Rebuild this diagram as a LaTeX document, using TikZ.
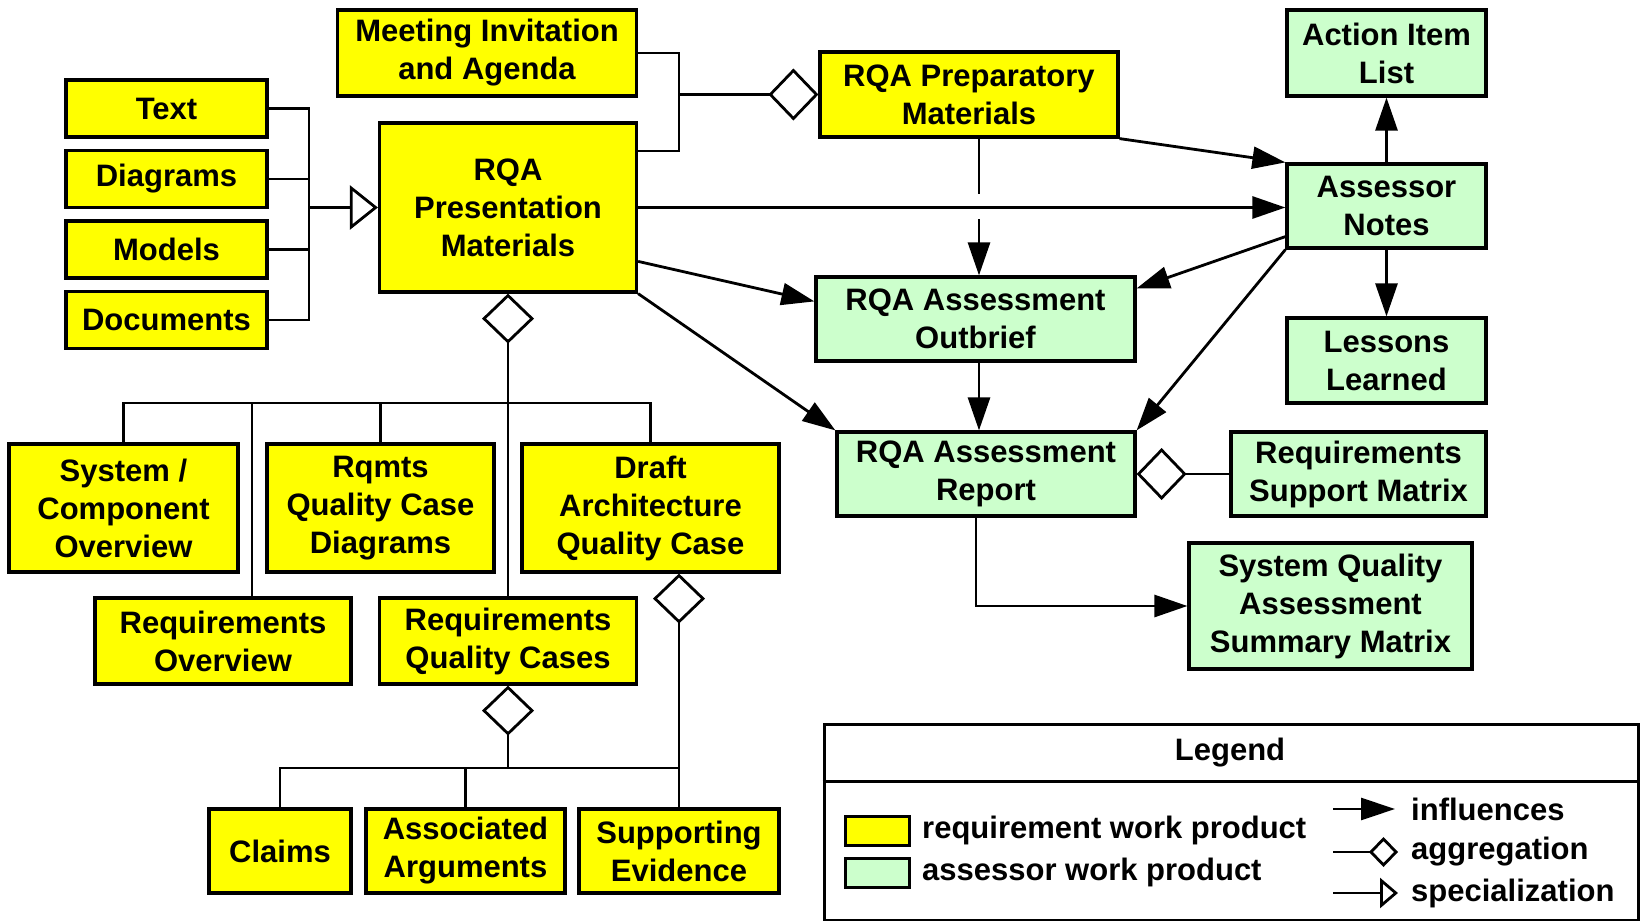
\documentclass[tikz,border=0pt]{standalone}
\usepackage{fontspec}
\setmainfont{Liberation Sans}
\usetikzlibrary{arrows.meta,calc}
\definecolor{wpyellow}{HTML}{FFFF00}
\definecolor{wpgreen}{HTML}{CCFFCC}
\begin{document}
\begin{tikzpicture}[x=1pt,y=-1pt,
  lbl/.style={font=\fontsize{31}{38}\selectfont\bfseries},
  wp/.style={draw=black, line width=3.2pt, inner sep=0pt, align=center, lbl},
  req/.style={wp, fill=wpyellow},
  ass/.style={wp, fill=wpgreen},
  conn/.style={line width=2.8pt, line join=miter},
  infl/.style={conn, -{Triangle[length=33pt,width=22pt]}},
  aggr/.style={conn, -{Diamond[fill=white,length=50pt,width=52pt]}},
  spec/.style={conn, -{Triangle[fill=white,length=28pt,width=44pt]}},
  legtxt/.style={lbl, anchor=west, inner sep=0pt},
  swatch/.style={draw=black, line width=3pt, minimum width=64pt, minimum height=29pt, inner sep=0pt},
]
\useasboundingbox (0,0) rectangle (1644,921);

% ---------- nodes ----------
\node[req, minimum width=299pt, minimum height=86pt] (meet) at (487,53) {Meeting Invitation\\and Agenda};
\node[req, minimum width=201pt, minimum height=57pt] (ntext) at (166.5,108.5) {Text};
\node[req, minimum width=201pt, minimum height=57pt] (diag) at (166.5,179) {Diagrams};
\node[req, minimum width=201pt, minimum height=57pt] (models) at (166.5,249.5) {Models};
\node[req, minimum width=201pt, minimum height=57pt] (docs) at (166.5,320) {Documents};
\node[req, minimum width=257pt, minimum height=169pt] (pres) at (508,207.5) {RQA\\Presentation\\Materials};
\node[req, minimum width=298pt, minimum height=85pt] (prep) at (969,94.5) {RQA Preparatory\\Materials};
\node[ass, minimum width=199pt, minimum height=86pt] (action) at (1386.5,53) {Action Item\\List};
\node[ass, minimum width=199pt, minimum height=84pt] (notes) at (1386.5,206) {Assessor\\Notes};
\node[ass, minimum width=199pt, minimum height=85pt] (lessons) at (1386.5,360.5) {Lessons\\Learned};
\node[ass, minimum width=319pt, minimum height=84pt] (outbrief) at (975.5,319) {RQA Assessment\\Outbrief};
\node[ass, minimum width=298pt, minimum height=84pt] (report) at (986,474) {RQA Assessment\\Report};
\node[ass, minimum width=255pt, minimum height=84pt] (rsm) at (1358.5,474) {Requirements\\Support Matrix};
\node[ass, minimum width=283pt, minimum height=126pt] (sqasm) at (1330.5,606) {System Quality\\Assessment\\Summary Matrix};
\node[req, minimum width=229pt, minimum height=128pt] (sys) at (123.5,508) {System /\\Component\\Overview};
\node[req, minimum width=227pt, minimum height=128pt] (rqcd) at (380.5,508) {Rqmts\\Quality Case\\Diagrams};
\node[req, minimum width=257pt, minimum height=128pt] (draft) at (650.5,508) {Draft\\Architecture\\Quality Case};
\node[req, minimum width=256pt, minimum height=86pt] (reqov) at (223,641) {Requirements\\Overview};
\node[req, minimum width=257pt, minimum height=86pt] (rqc) at (508,641) {Requirements\\Quality Cases};
\node[req, minimum width=142pt, minimum height=84pt] (claims) at (280,851) {Claims};
\node[req, minimum width=199pt, minimum height=84pt] (args) at (465.5,851) {Associated\\Arguments};
\node[req, minimum width=200pt, minimum height=84pt] (evid) at (679,851) {Supporting\\Evidence};

% ---------- specialization ----------
\coordinate (spx) at (309,0);
\draw[conn] (ntext.east) -| (spx |- docs.east) -- (docs.east);
\draw[conn] (diag.east) -- (diag.east -| spx);
\draw[conn] (models.east) -- (models.east -| spx);
\draw[spec] (pres.west -| spx) -- (pres.west);

% ---------- meeting + presentation -> preparatory ----------
\coordinate (mx) at (679,151);
\draw[conn] (meet.east) -| (mx) -- (mx -| pres.east);
\draw[aggr] (prep.west -| mx) -- (prep.west);

% ---------- influences ----------
\draw[infl] (pres.east) -- (pres.east -| notes.west);
\coordinate (hopA) at (979,194);
\coordinate (hopB) at (979,219);
\draw[conn] (prep.south -| hopA) -- (hopA);
\draw[infl] (hopB) -- (outbrief.north -| hopB);
\draw[infl] (prep.south east) -- (notes.north west);
\draw[infl] ($(pres.north east)+(0,140)$) -- ($(outbrief.north west)+(0,26)$);
\draw[infl] (pres.south east) -- (report.north west);
\draw[infl] ($(notes.south west)+(0,-13)$) -- ($(outbrief.north east)+(0,13)$);
\draw[infl] (notes.south west) -- (report.north east);
\draw[infl] (notes.north) -- (action.south);
\draw[infl] (notes.south) -- (lessons.north);
\draw[infl] (outbrief.south -| hopA) -- (report.north -| hopA);
\draw[infl] ($(report.south)+(-10,0)$) |- (sqasm.west);
\draw[aggr] (rsm.west) -- (report.east);

% ---------- presentation aggregation tree ----------
\coordinate (busA) at (0,403);
\draw[aggr] (pres.south |- busA) -- (pres.south);
\draw[conn] (sys.north) |- (draft.north |- busA) -- (draft.north);
\draw[conn] (rqcd.north) -- (rqcd.north |- busA);
\coordinate (rodrop) at (252,403);
\draw[conn] (rodrop) -- (rodrop |- reqov.north);
\draw[conn] (pres.south |- busA) -- (rqc.north);

% ---------- quality cases aggregation tree ----------
\coordinate (busB) at (0,768);
\draw[aggr] (rqc.south |- busB) -- (rqc.south);
\draw[conn] (claims.north) |- (evid.north |- busB);
\draw[conn] (args.north) -- (args.north |- busB);
\draw[aggr] (evid.north) -- (evid.north |- draft.south);

% ---------- legend ----------
\node[draw=black, line width=3pt, minimum width=814pt, minimum height=196pt, inner sep=0pt] (legend) at (1231,822) {};
\coordinate (lgdiv) at (0,781);
\draw[line width=3pt] (legend.west |- lgdiv) -- (legend.east |- lgdiv);
\node[lbl] (lgtitle) at (1230,753) {Legend};
\node[swatch, fill=wpyellow] (swy) at (877,830.5) {};
\node[swatch, fill=wpgreen] (swg) at (877,872.5) {};
\node[legtxt] (lreq) at (922,830) {requirement work product};
\node[legtxt] (lass) at (922,872) {assessor work product};
\node[legtxt] (linf) at (1411,809) {influences};
\node[legtxt] (lagg) at (1411,852) {aggregation};
\node[legtxt] (lspe) at (1411,893) {specialization};
\coordinate (la1) at (1333,809);
\coordinate (la2) at (1333,852);
\coordinate (la3) at (1333,893);
\draw[conn, -{Triangle[length=34pt,width=22pt]}] (la1) -- ($(linf.west)+(-16,0)$);
\draw[conn, -{Diamond[fill=white,length=29pt,width=30pt]}] (la2) -- ($(lagg.west)+(-13,0)$);
\draw[conn, -{Triangle[fill=white,length=18pt,width=30pt]}] (la3) -- ($(lspe.west)+(-13,0)$);
\end{tikzpicture}
\end{document}
